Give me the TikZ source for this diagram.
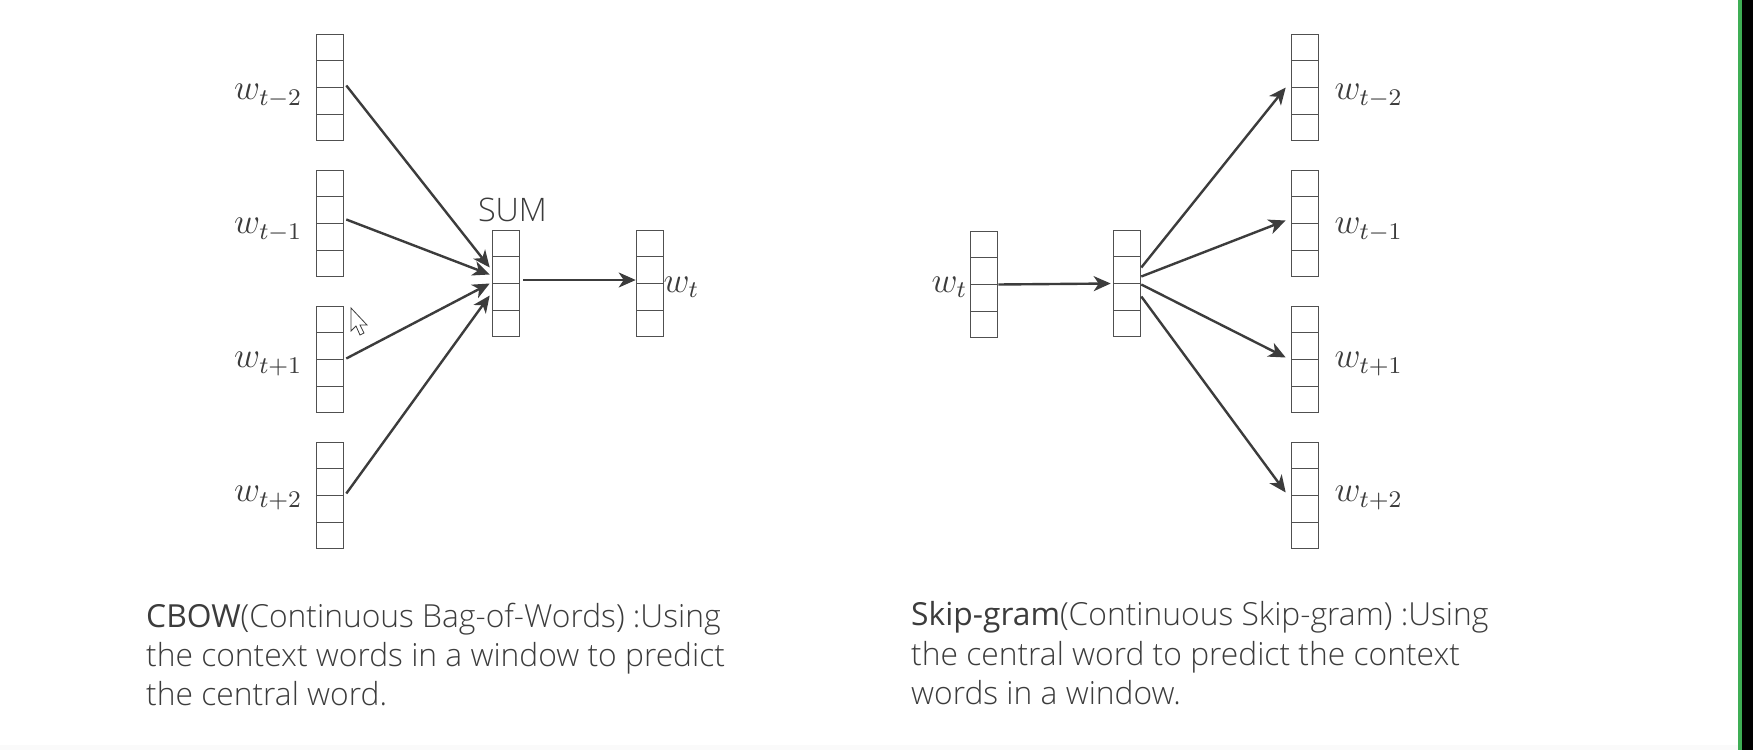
\documentclass[tikz,border=0pt]{standalone}
\usepackage{amsmath}
\usepackage{fontspec}
\setmainfont{Open Sans Light}
\newfontfamily\strongfont{Open Sans}
\usetikzlibrary{arrows.meta,calc}
\definecolor{ink}{HTML}{3C3C3C}
\definecolor{boxink}{HTML}{505050}
\definecolor{barGreen}{HTML}{3FAE55}
\tikzset{
  stackbox/.style={draw=boxink,line width=1.6bp,rectangle,minimum width=27bp,minimum height=106bp,inner sep=0pt,
    path picture={\draw[boxink,line width=1.6bp]
      (path picture bounding box.west) -- (path picture bounding box.east)
      ($(path picture bounding box.south west)!.2453!(path picture bounding box.north west)$) -- ($(path picture bounding box.south east)!.2453!(path picture bounding box.north east)$)
      ($(path picture bounding box.south west)!.7547!(path picture bounding box.north west)$) -- ($(path picture bounding box.south east)!.7547!(path picture bounding box.north east)$);}},
  arrowline/.style={draw=ink,line width=2.4bp,-{Stealth[length=17bp,width=15bp,inset=5bp]}},
  wlabel/.style={inner sep=0pt,text=ink,scale=3,font=\fontsize{12}{14}\selectfont},
  captext/.style={inner sep=0pt,text=ink,align=left,anchor=north west,font=\fontsize{31.9}{39.6}\selectfont},
}
\begin{document}
\begin{tikzpicture}[x=1bp,y=-1bp]
\useasboundingbox (0,0) rectangle (1753,750);
\fill[white] (0,0) rectangle (1753,750);
\fill[black!2] (0,745) rectangle (1738,750);
\fill[black] (1742,0) rectangle (1753,750);
\fill[barGreen] (1738,0) rectangle (1742,750);
% CBOW
\node[stackbox] (a1) at (330,87.5) {};
\node[stackbox] (a2) at (330,223.5) {};
\node[stackbox] (a3) at (330,359.5) {};
\node[stackbox] (a4) at (330,495.5) {};
\node[stackbox] (sum) at (506,283.5) {};
\node[stackbox] (out) at (650,283.5) {};
\node[wlabel,anchor=east] (la1) at (303,96) {$w_{t-2}$};
\node[wlabel,anchor=east] (la2) at (303,230) {$w_{t-1}$};
\node[wlabel,anchor=east] (la3) at (303,364) {$w_{t+1}$};
\node[wlabel,anchor=east] (la4) at (303,498) {$w_{t+2}$};
\node[wlabel,anchor=west] (lout) at (663,287) {$w_t$};
\node[inner sep=0pt,text=ink,font=\fontsize{32.5}{36}\selectfont] (lsum) at (512.5,210) {SUM};
\draw[arrowline] ([xshift=2bp,yshift=2bp]a1.east) -- ([xshift=-2bp,yshift=16bp]sum.west);
\draw[arrowline] ([xshift=2bp,yshift=4bp]a2.east) -- ([xshift=-2bp,yshift=9bp]sum.west);
\draw[arrowline] ([xshift=2bp,yshift=1bp]a3.east) -- ([xshift=-2bp]sum.west);
\draw[arrowline] ([xshift=2bp,yshift=2bp]a4.east) -- ([xshift=-2bp,yshift=-12bp]sum.west);
\draw[arrowline] ([xshift=3bp,yshift=3.5bp]sum.east) -- ([yshift=3.5bp]out.west);
% Skip-gram
\node[stackbox] (b0) at (984,284.5) {};
\node[stackbox] (mid) at (1127,283.5) {};
\node[stackbox] (c1) at (1305,87.5) {};
\node[stackbox] (c2) at (1305,223.5) {};
\node[stackbox] (c3) at (1305,359.5) {};
\node[stackbox] (c4) at (1305,495.5) {};
\node[wlabel,anchor=east] (lb0) at (968,287) {$w_t$};
\node[wlabel,anchor=west] (lc1) at (1334,96) {$w_{t-2}$};
\node[wlabel,anchor=west] (lc2) at (1334,230) {$w_{t-1}$};
\node[wlabel,anchor=west] (lc3) at (1334,364) {$w_{t+1}$};
\node[wlabel,anchor=west] (lc4) at (1334,498) {$w_{t+2}$};
\draw[arrowline] (b0.east) -- ([xshift=-2bp]mid.west);
\draw[arrowline] ([yshift=16bp]mid.east) -- ([xshift=-5bp]c1.west);
\draw[arrowline] ([yshift=7bp]mid.east) -- ([xshift=-5bp,yshift=3bp]c2.west);
\draw[arrowline] ([yshift=-1bp]mid.east) -- ([xshift=-5bp,yshift=2bp]c3.west);
\draw[arrowline] ([yshift=-13bp]mid.east) -- ([xshift=-5bp,yshift=3bp]c4.west);
% Captions
\node[captext] (capa) at (146,602.5) {{\strongfont CBOW}(Continuous Bag-of-Words) :Using\\the context words in a window to predict\\the central word.};
\node[captext] (capb) at (911,601.5) {{\strongfont Skip-gram}(Continuous Skip-gram) :Using\\the central word to predict the context\\words in a window.};
% Mouse pointer
\draw[draw=ink,fill=white,line width=.8bp] (351,308) -- (351,331) -- (356,326) -- (360,335) -- (364,333) -- (360,325) -- (367,325) -- cycle;
\end{tikzpicture}
\end{document}
